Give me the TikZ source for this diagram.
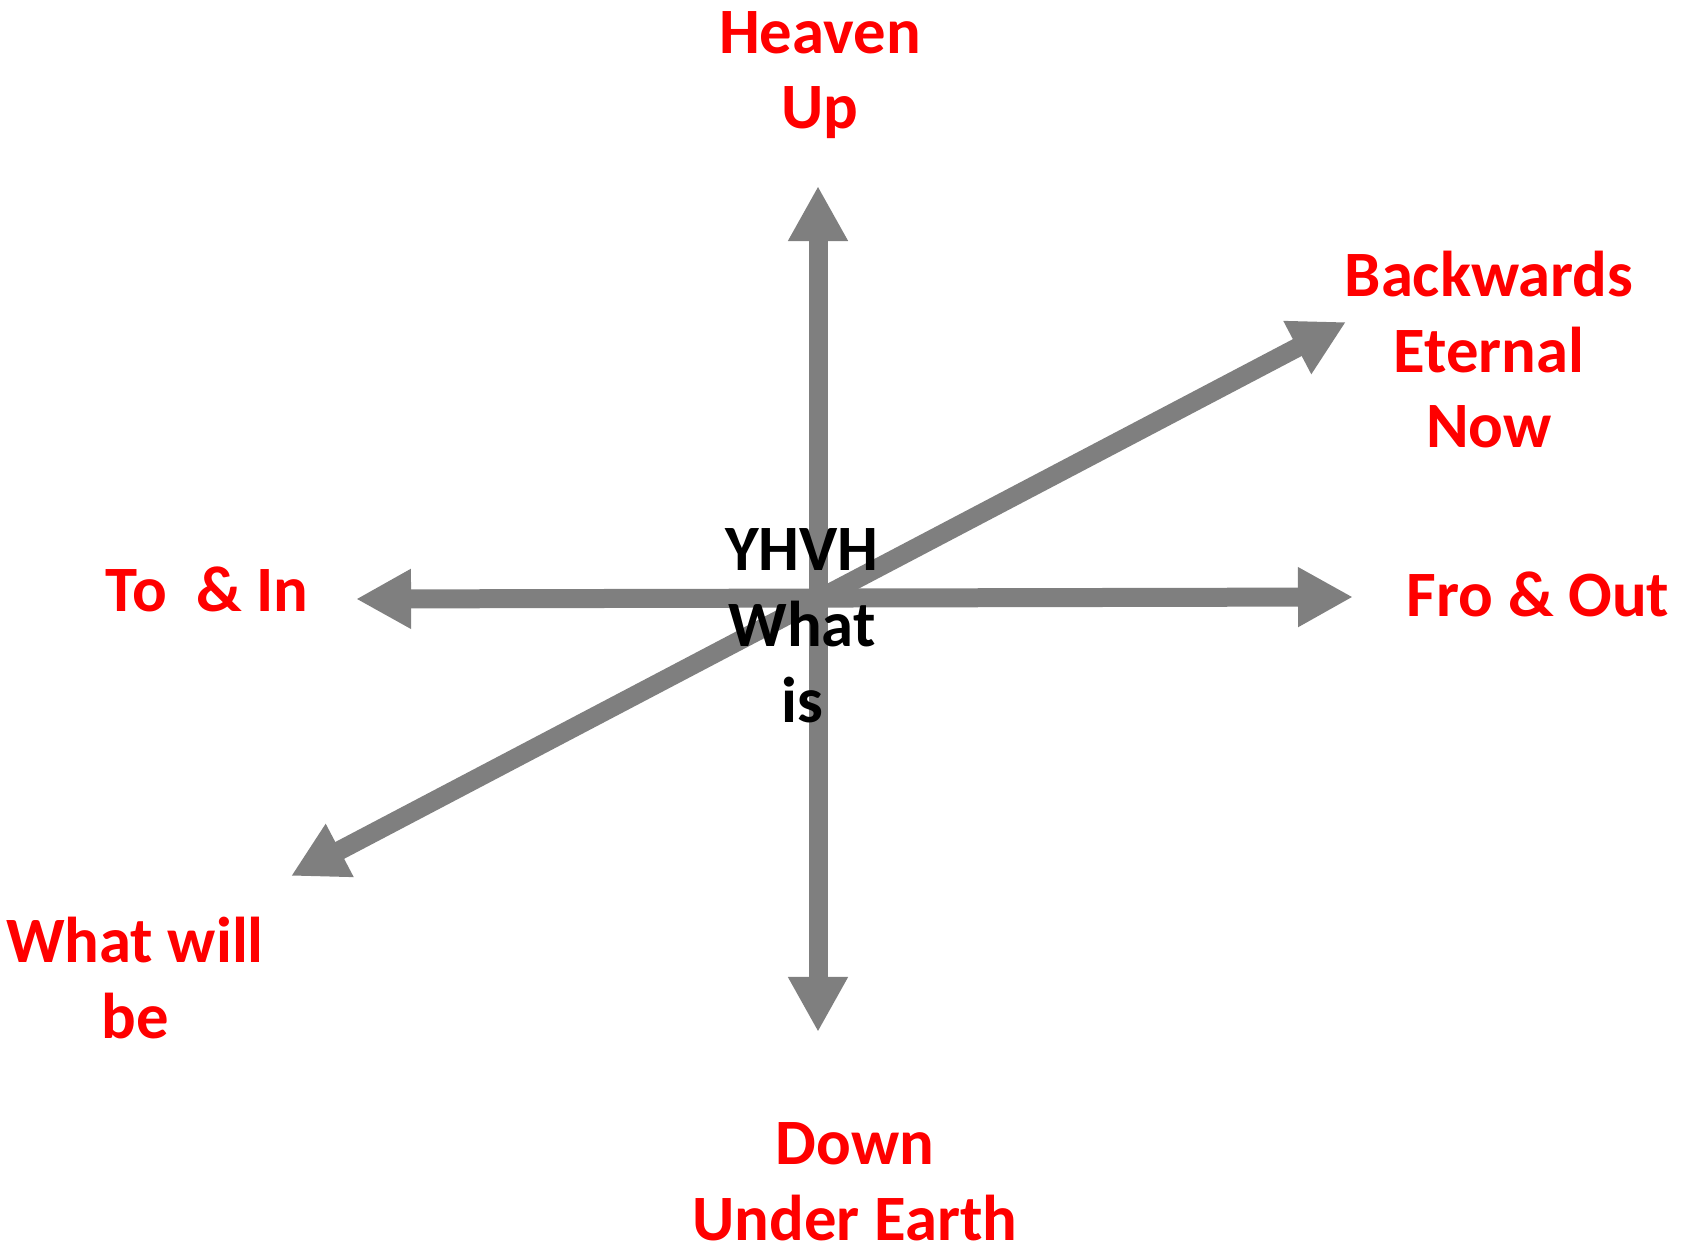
\documentclass[tikz,border=0pt]{standalone}
\usepackage{fontspec}
\setmainfont{Carlito}
\usetikzlibrary{arrows.meta}
\newlength{\du}
\setlength{\du}{0.01cm}
\definecolor{axisgray}{RGB}{127,127,127}
\definecolor{labelred}{RGB}{255,0,0}
\tikzset{
  axis/.style={draw=axisgray, line width=19\du,
    {Triangle[length=0.55cm,width=0.56cm]}-{Triangle[length=0.55cm,width=0.56cm]}},
  dirlabel/.style={anchor=base, inner sep=0pt, outer sep=0pt, align=center,
    text=labelred, font=\fontsize{18.4pt}{21.6pt}\selectfont\bfseries},
  centerlabel/.style={dirlabel, text=black}
}
\begin{document}
\begin{tikzpicture}[yscale=-1]
\useasboundingbox (0\du,0\du) rectangle (1690\du,1249\du);
% axis ends
\coordinate (upend) at (818\du,186\du);
\coordinate (downend) at (818\du,1032\du);
\coordinate (inend) at (356\du,599\du);
\coordinate (outend) at (1353\du,597\du);
\coordinate (willend) at (291\du,876\du);
\coordinate (nowend) at (1346\du,322\du);
\draw[axis] (upend) -- (downend);
\draw[axis] (inend) -- (outend);
\draw[axis] (willend) -- (nowend);
% labels (base = baseline of last line)
\node[dirlabel] (heaven) at (820\du,129\du) {Heaven\\Up};
\node[dirlabel] (backwards) at (1489\du,448\du) {Backwards\\Eternal\\Now};
\node[dirlabel] (fro) at (1538\du,617\du) {Fro \& Out};
\node[dirlabel] (to) at (207\du,612\du) {To\ \ \& In};
\node[dirlabel] (whatwill) at (135\du,1038\du) {What will\\be};
\node[dirlabel] (down) at (855\du,1240\du) {Down\\Under Earth};
\node[centerlabel] (yhvh) at (802\du,722\du) {YHVH\\What\\is};
\end{tikzpicture}
\end{document}
